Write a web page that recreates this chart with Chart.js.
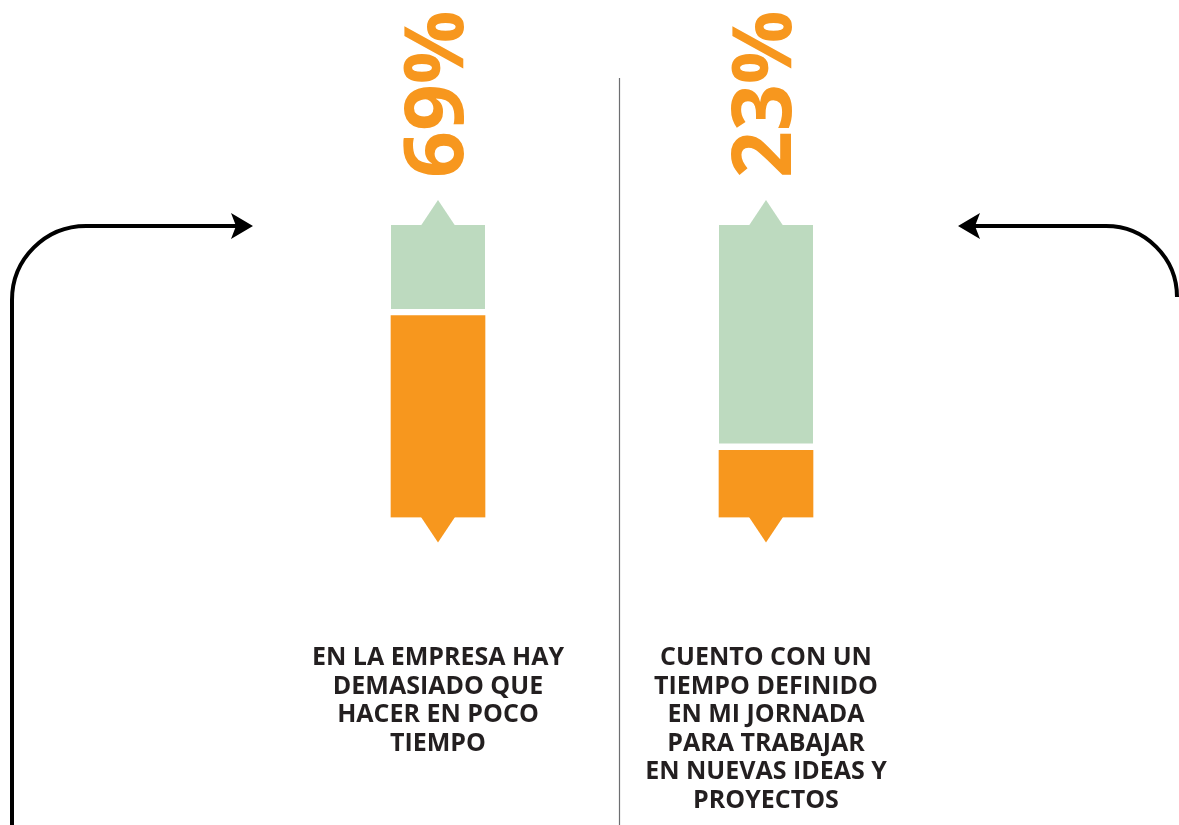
<!DOCTYPE html>
<html><head><meta charset="utf-8">
<script src="https://cdn.jsdelivr.net/npm/chart.js@4/dist/chart.umd.min.js"></script>
<style>html,body{margin:0;padding:0;background:#fff;overflow:hidden}#wrap{position:relative;width:1179px;height:825px}</style>
</head><body><div id="wrap"><canvas id="c" width="1179" height="825"></canvas></div>
<script>
const categories = [
  ["EN LA EMPRESA HAY", "DEMASIADO QUE", "HACER EN POCO", "TIEMPO"],
  ["CUENTO CON UN", "TIEMPO DEFINIDO", "EN MI JORNADA", "PARA TRABAJAR", "EN NUEVAS IDEAS Y", "PROYECTOS"]
];
const highlightValues = [69, 23];
const restValues = [31, 77];

const ORANGE = '#F7971E';
const GREEN = '#BDDABF';
const TEXT = '#231F20';

const decor = {
  id: 'decor',
  beforeDatasetsDraw(chart) {
    const ctx = chart.ctx;
    ctx.save();
    ctx.strokeStyle = '#6D6E71';
    ctx.lineWidth = 1.2;
    ctx.beginPath(); ctx.moveTo(619.5, 78); ctx.lineTo(619.5, 825); ctx.stroke();
    ctx.strokeStyle = '#000'; ctx.fillStyle = '#000'; ctx.lineWidth = 4;
    ctx.beginPath();
    ctx.moveTo(12, 825); ctx.lineTo(12, 300);
    ctx.arcTo(12, 226, 86, 226, 74);
    ctx.lineTo(236, 226); ctx.stroke();
    ctx.beginPath();
    ctx.moveTo(253, 226); ctx.lineTo(231, 213); ctx.lineTo(236, 226); ctx.lineTo(231, 239); ctx.closePath(); ctx.fill();
    ctx.beginPath();
    ctx.moveTo(1177, 297); ctx.lineTo(1177, 296);
    ctx.arcTo(1177, 226, 1105, 226, 71);
    ctx.lineTo(975, 226); ctx.stroke();
    ctx.beginPath();
    ctx.moveTo(958, 226); ctx.lineTo(980, 213); ctx.lineTo(975, 226); ctx.lineTo(980, 239); ctx.closePath(); ctx.fill();
    ctx.restore();
  },
  afterDatasetsDraw(chart) {
    const ctx = chart.ctx;
    const low = chart.getDatasetMeta(0).data;
    const high = chart.getDatasetMeta(1).data;
    ctx.save();
    low.forEach((bar, i) => {
      const top = high[i];
      ctx.fillStyle = ORANGE;
      ctx.beginPath();
      ctx.moveTo(bar.x - 17, bar.base - 0.5); ctx.lineTo(bar.x + 17, bar.base - 0.5); ctx.lineTo(bar.x, bar.base + 25); ctx.closePath(); ctx.fill();
      ctx.fillStyle = GREEN;
      ctx.beginPath();
      ctx.moveTo(top.x - 17, top.y + 0.5); ctx.lineTo(top.x + 17, top.y + 0.5); ctx.lineTo(top.x, top.y - 25); ctx.closePath(); ctx.fill();
      ctx.save();
      ctx.translate(bar.x + 25, 178);
      ctx.rotate(-Math.PI / 2);
      ctx.fillStyle = ORANGE;
      ctx.font = 'bold 82px "Open Sans"';
      ctx.textAlign = 'left';
      ctx.textBaseline = 'alphabetic';
      ctx.fillText(highlightValues[i] + '%', 0, 0);
      ctx.restore();
    });
    ctx.restore();
  }
};

new Chart(document.getElementById('c'), {
  type: 'bar',
  data: {
    labels: categories,
    datasets: [
      { data: highlightValues, backgroundColor: ORANGE, borderWidth: 0, barThickness: 94 },
      { data: restValues, backgroundColor: GREEN, borderColor: '#FFFFFF',
        borderWidth: { top: 0, left: 0, right: 0, bottom: 7 }, borderSkipped: false, barThickness: 94 }
    ]
  },
  options: {
    responsive: false,
    animation: false,
    layout: { padding: { left: 274, right: 249, top: 225, bottom: 15 } },
    plugins: { legend: { display: false }, tooltip: { enabled: false } },
    scales: {
      x: {
        stacked: true,
        grid: { display: false },
        border: { display: false },
        ticks: { padding: 118, color: TEXT, maxRotation: 0, minRotation: 0, autoSkip: false,
          font: { family: '"Open Sans"', weight: 'bold', size: 25, lineHeight: 1.144 } }
      },
      y: { stacked: true, display: false, min: 0, max: 100 }
    }
  },
  plugins: [decor]
});
</script></body></html>
